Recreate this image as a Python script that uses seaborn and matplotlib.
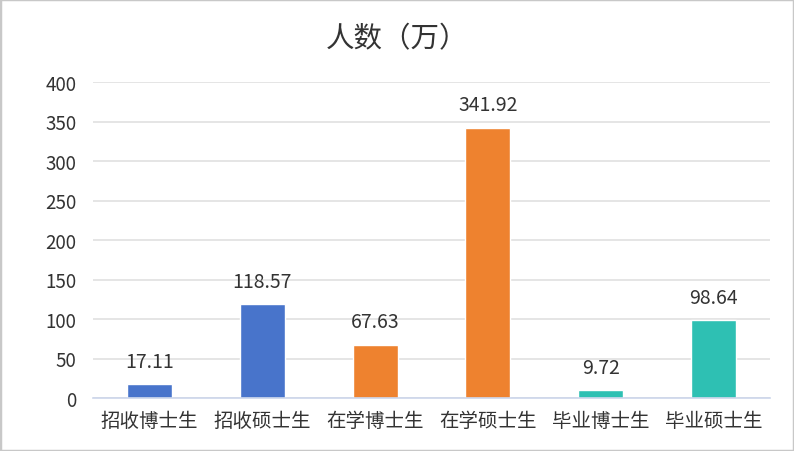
import matplotlib
matplotlib.use("Agg")
import matplotlib.pyplot as plt
import seaborn as sns
import pandas as pd
import numpy as np
from matplotlib.patches import Rectangle

categories = ["招收博士生", "招收硕士生", "在学博士生", "在学硕士生", "毕业博士生", "毕业硕士生"]
values = [17.11, 118.57, 67.63, 341.92, 9.72, 98.64]
groups = ["招收", "招收", "在学", "在学", "毕业", "毕业"]
palette = {"招收": "#4874CB", "在学": "#EE822F", "毕业": "#2EC0B3"}
yticks = [0, 50, 100, 150, 200, 250, 300, 350, 400]
title = "人数（万）"

sns.set_theme(style="white")
plt.rcParams['font.family'] = ['Noto Sans CJK SC', 'DejaVu Sans']

df = pd.DataFrame({"cat": categories, "val": values, "grp": groups})

fig = plt.figure(figsize=(7.94, 4.52), dpi=100)
ax = fig.add_axes([93/794, 1-399/452, (770-93)/794, (399-83)/452])
sns.barplot(data=df, x="cat", y="val", hue="grp", palette=palette, dodge=False,
            width=0.4, legend=False, ax=ax, saturation=1)

ax.set_ylim(0, 400)
ax.set_xlim(-0.5, 5.5)
ax.set_yticks(yticks)
ax.set_yticklabels([str(t) for t in yticks], fontsize=13.5, color="#333333")
ax.tick_params(axis="y", length=0, pad=12)
ax.grid(axis="y", color="#e0e0e0", linewidth=1.2)
ax.set_axisbelow(True)
ax.set_xlabel("")
ax.set_ylabel("")
for s in ["top", "right", "left"]:
    ax.spines[s].set_visible(False)
ax.spines["bottom"].set_color("#ccd6eb")
ax.spines["bottom"].set_linewidth(1.2)

ax.set_xticks(np.arange(len(categories)))
ax.set_xticklabels(categories, fontsize=14, color="#333333")
ax.tick_params(axis="x", length=0, pad=9)
ax.set_xticks(np.arange(-0.5, len(categories), 1.0), minor=True)
ax.tick_params(axis="x", which="minor", length=6, color="#ccd6eb", width=1.2)

for i, v in enumerate(values):
    ax.annotate(f"{v:.2f}", (i, v), xytext=(0, 9), textcoords="offset points",
                ha="center", va="bottom", fontsize=14, color="#333333")

fig.text(0.5, 1-39/452, title, ha="center", va="center", fontsize=20.5, color="#333333")
fig.patches.append(Rectangle((0, 0), 1, 1, transform=fig.transFigure, fill=False,
                             edgecolor="#c8c8c8", linewidth=2.5))
fig.savefig("out.png", dpi=100)
